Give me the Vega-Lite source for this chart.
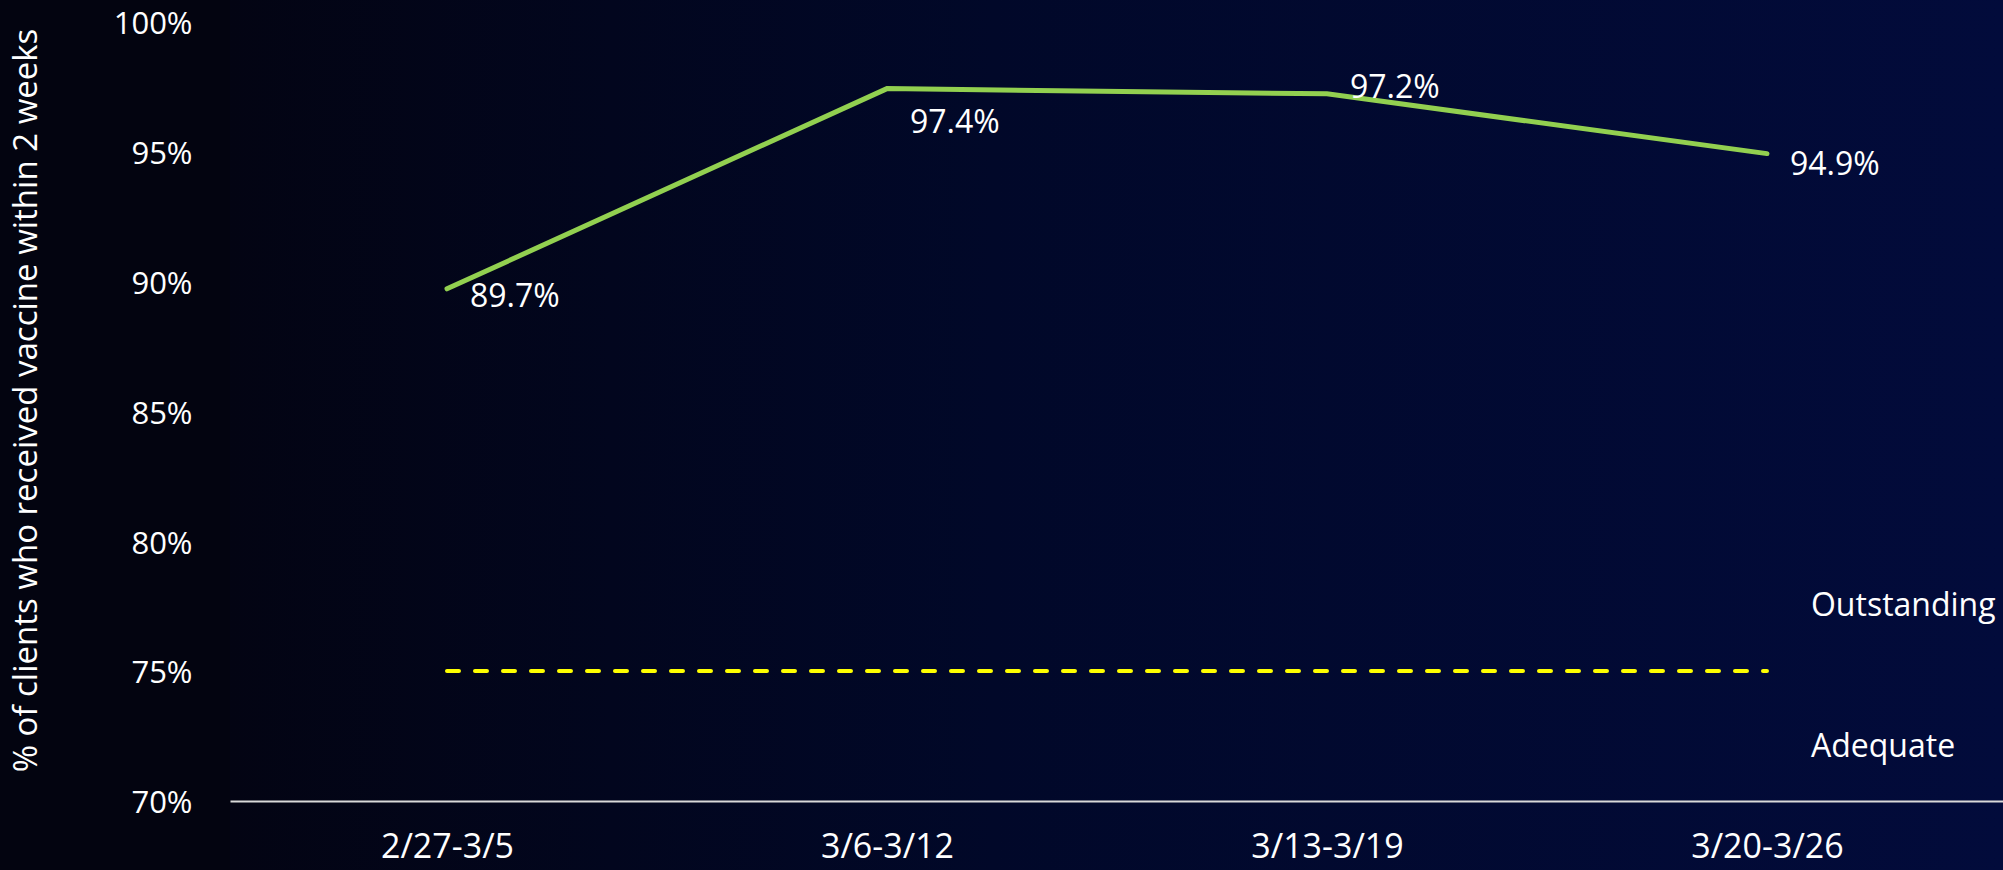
{
  "$schema": "https://vega.github.io/schema/vega-lite/v6.json",
  "width": 1773,
  "height": 870,
  "autosize": {"type": "none"},
  "padding": {"left": 230, "top": 0, "right": 0, "bottom": 0},
  "background": "#030410",
  "view": {
    "stroke": null,
    "fill": {
      "gradient": "linear",
      "x1": 0, "y1": 0, "x2": 1, "y2": 0,
      "stops": [
        {"offset": 0, "color": "#030413"},
        {"offset": 0.43, "color": "#010829"},
        {"offset": 1, "color": "#020b3b"}
      ]
    }
  },
  "config": {
    "font": "Open Sans",
    "axis": {"grid": false, "ticks": false}
  },
  "datasets": {
    "series": [
      {"week": "2/27-3/5", "pct": 89.7},
      {"week": "3/6-3/12", "pct": 97.4},
      {"week": "3/13-3/19", "pct": 97.2},
      {"week": "3/20-3/26", "pct": 94.9}
    ],
    "target": [
      {"week": "2/27-3/5", "pct": 75},
      {"week": "3/6-3/12", "pct": 75},
      {"week": "3/13-3/19", "pct": 75},
      {"week": "3/20-3/26", "pct": 75}
    ],
    "zones": [
      {"week": "3/20-3/26", "pct": 77.6, "label": "Outstanding"},
      {"week": "3/20-3/26", "pct": 72.2, "label": "Adequate"}
    ]
  },
  "encoding": {
    "x": {
      "field": "week",
      "type": "ordinal",
      "sort": null,
      "scale": {"type": "point", "padding": 0.5148, "align": 0.479},
      "axis": {
        "title": null,
        "offset": -69,
        "labelAngle": 0,
        "labelColor": "#ffffff",
        "labelFont": "Open Sans",
        "labelFontSize": 34,
        "labelBaseline": "middle",
        "labelPadding": 46,
        "domain": true,
        "domainColor": "#d9d9d9",
        "domainWidth": 2
      }
    },
    "y": {
      "field": "pct",
      "type": "quantitative",
      "scale": {"domain": [67.346, 100.808], "nice": false, "zero": false},
      "axis": {
        "values": [70, 75, 80, 85, 90, 95, 100],
        "labelExpr": "datum.value + '%'",
        "labelColor": "#ffffff",
        "labelFont": "Open Sans",
        "labelFontSize": 31,
        "labelPadding": 38,
        "labelOffset": 3,
        "domain": false,
        "title": "% of clients who received vaccine within 2 weeks",
        "titleColor": "#ffffff",
        "titleFont": "Open Sans",
        "titleFontSize": 33,
        "titleFontWeight": "normal",
        "titleAngle": -90,
        "titleAlign": "center",
        "titleBaseline": "middle",
        "titleX": -204,
        "titleY": 400
      }
    }
  },
  "layer": [
    {
      "data": {"name": "target"},
      "mark": {"type": "line", "color": "#ffff00", "strokeWidth": 4, "strokeDash": [12, 16], "strokeCap": "round"}
    },
    {
      "data": {"name": "series"},
      "mark": {"type": "line", "color": "#92d050", "strokeWidth": 5, "strokeCap": "round"}
    },
    {
      "data": {"name": "series"},
      "transform": [
        {"filter": "datum.pct == 89.7"},
        {"calculate": "format(datum.pct, '.1f') + '%'", "as": "lbl"}
      ],
      "mark": {"type": "text", "align": "left", "baseline": "middle", "dx": 23, "dy": 8, "color": "#ffffff", "fontSize": 32, "font": "Open Sans"},
      "encoding": {"text": {"field": "lbl", "type": "nominal"}}
    },
    {
      "data": {"name": "series"},
      "transform": [
        {"filter": "datum.pct == 94.9"},
        {"calculate": "format(datum.pct, '.1f') + '%'", "as": "lbl"}
      ],
      "mark": {"type": "text", "align": "left", "baseline": "middle", "dx": 23, "dy": 11, "color": "#ffffff", "fontSize": 32, "font": "Open Sans"},
      "encoding": {"text": {"field": "lbl", "type": "nominal"}}
    },
    {
      "data": {"name": "series"},
      "transform": [
        {"filter": "datum.pct == 97.4"},
        {"calculate": "format(datum.pct, '.1f') + '%'", "as": "lbl"}
      ],
      "mark": {"type": "text", "align": "left", "baseline": "middle", "dx": 23, "dy": 34, "color": "#ffffff", "fontSize": 32, "font": "Open Sans"},
      "encoding": {"text": {"field": "lbl", "type": "nominal"}}
    },
    {
      "data": {"name": "series"},
      "transform": [
        {"filter": "datum.pct == 97.2"},
        {"calculate": "format(datum.pct, '.1f') + '%'", "as": "lbl"}
      ],
      "mark": {"type": "text", "align": "left", "baseline": "middle", "dx": 23, "dy": -6, "color": "#ffffff", "fontSize": 32, "font": "Open Sans"},
      "encoding": {"text": {"field": "lbl", "type": "nominal"}}
    },
    {
      "data": {"name": "zones"},
      "mark": {"type": "text", "align": "left", "baseline": "middle", "dx": 44, "dy": 3, "color": "#ffffff", "fontSize": 32, "font": "Open Sans"},
      "encoding": {"text": {"field": "label", "type": "nominal"}}
    }
  ]
}
